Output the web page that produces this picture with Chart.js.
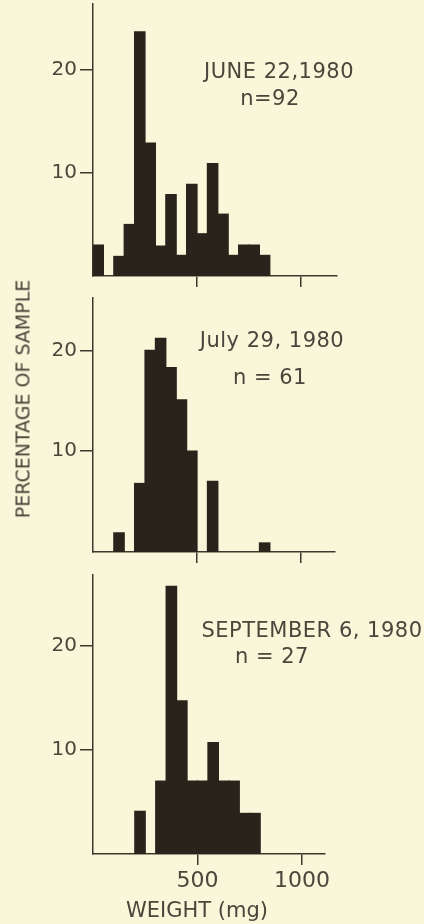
<!DOCTYPE html>
<html>
<head>
<meta charset="utf-8">
<script src="https://cdn.jsdelivr.net/npm/chart.js@4.4.0/dist/chart.umd.min.js"></script>
<style>
  html, body { margin: 0; padding: 0; background: #faf6d9; }
  #wrap { position: relative; width: 424px; height: 924px; overflow: hidden;
          font-family: "DejaVu Sans", sans-serif; color: #4a463b; }
  canvas { position: absolute; left: 0; }
  .lbl { position: absolute; transform: translate(-50%, -50%); white-space: nowrap;
         line-height: 1; font-size: 21px; letter-spacing: 0.5px; }
  #xtitle { letter-spacing: 0; }
  #ytitle { transform: translate(-50%, -50%) rotate(-90deg); font-size: 19px; letter-spacing: 0; }
</style>
</head>
<body>
<div id="wrap">
  <canvas id="c1" width="424" height="290" style="top:0px"></canvas>
  <canvas id="c2" width="424" height="280" style="top:290px"></canvas>
  <canvas id="c3" width="424" height="354" style="top:570px"></canvas>

  <div class="lbl" style="left:279px; top:71px">JUNE 22,1980</div>
  <div class="lbl" style="left:270px; top:98px">n=92</div>
  <div class="lbl" style="left:272px; top:340px">July 29, 1980</div>
  <div class="lbl" style="left:270px; top:377px">n = 61</div>
  <div class="lbl" style="left:312px; top:630px">SEPTEMBER 6, 1980</div>
  <div class="lbl" style="left:272px; top:656px">n = 27</div>
  <div class="lbl" id="xtitle" style="left:197px; top:910px">WEIGHT (mg)</div>
  <div class="lbl" id="ytitle" style="left:23px; top:399px">PERCENTAGE OF SAMPLE</div>
</div>

<script>
// Данные: середины весовых классов (мг) и процент выборки
const juneWeights = [25, 125, 175, 225, 275, 325, 375, 425, 475, 525, 575, 625, 675, 725, 775, 825];
const junePct     = [3.0, 1.9, 5.0, 23.7, 12.9, 2.9, 7.9, 2.0, 8.9, 4.1, 10.9, 6.0, 2.0, 3.0, 3.0, 2.0];

const julyWeights = [125, 225, 275, 325, 375, 425, 475, 575, 825];
const julyPct     = [1.9, 6.8, 20.0, 21.2, 18.3, 15.1, 10.0, 7.0, 0.9];

const septWeights = [225, 325, 375, 425, 475, 525, 575, 625, 675, 725, 775];
const septPct     = [4.1, 7.0, 25.7, 14.7, 7.0, 7.0, 10.7, 7.0, 7.0, 3.9, 3.9];

const xTicks = [500, 1000];
const yTicks = [10, 20];

const INK = "#28241b";
const AXIS = "#3c382f";
const TEXT = "#4a463b";
const FONT = "DejaVu Sans";

// убираем автоматические отступы под подписи, чтобы область графика стояла точно
function noPad(axis) {
  axis.paddingTop = 0;
  axis.paddingBottom = 0;
  axis.paddingLeft = 0;
  axis.paddingRight = 0;
}

function makePanel(id, weights, pct, o) {
  const ctx = document.getElementById(id).getContext("2d");
  return new Chart(ctx, {
    type: "bar",
    data: {
      datasets: [{
        data: weights.map((w, i) => ({ x: w, y: pct[i] })),
        backgroundColor: INK,
        borderWidth: 0,
        inflateAmount: 0.6, // без светлых щелей между соседними столбцами
        barPercentage: 1,
        categoryPercentage: 1,
      }],
    },
    options: {
      responsive: false,
      animation: false,
      events: [],
      layout: { padding: { top: o.padTop, right: o.padRight, left: 0, bottom: 0 } },
      plugins: { legend: { display: false }, tooltip: { enabled: false } },
      scales: {
        x: {
          type: "linear",
          min: 0,
          max: o.xMax,
          offset: false,
          afterBuildTicks: (axis) => { axis.ticks = xTicks.map((v) => ({ value: v })); },
          afterFit: (axis) => { axis.height = o.xAxisHeight; noPad(axis); },
          grid: { drawOnChartArea: false, drawTicks: true, tickLength: 11, color: AXIS, lineWidth: 1.5, offset: false },
          border: { display: true, color: AXIS, width: 1.5 },
          ticks: {
            color: TEXT,
            padding: 3,
            maxRotation: 0,
            font: { family: FONT, size: 22 },
            callback: (v) => (o.showXLabels ? String(v) : ""),
          },
        },
        y: {
          min: 0,
          max: o.yMax,
          afterBuildTicks: (axis) => { axis.ticks = yTicks.map((v) => ({ value: v })); },
          afterFit: (axis) => { axis.width = 93; noPad(axis); },
          grid: { drawOnChartArea: false, drawTicks: true, tickLength: 13, color: AXIS, lineWidth: 1.5 },
          border: { display: true, color: AXIS, width: 1.5 },
          ticks: { color: TEXT, padding: 3, font: { family: FONT, size: 20 } },
        },
      },
    },
  });
}

makePanel("c1", juneWeights, junePct, { padTop: 4, padRight: 87, xMax: 1173, yMax: 26.4, xAxisHeight: 14, showXLabels: false });
makePanel("c2", julyWeights, julyPct, { padTop: 8, padRight: 89, xMax: 1163, yMax: 25.2, xAxisHeight: 18, showXLabels: false });
makePanel("c3", septWeights, septPct, { padTop: 5, padRight: 99, xMax: 1110, yMax: 26.8, xAxisHeight: 70, showXLabels: true });
</script>
</body>
</html>
